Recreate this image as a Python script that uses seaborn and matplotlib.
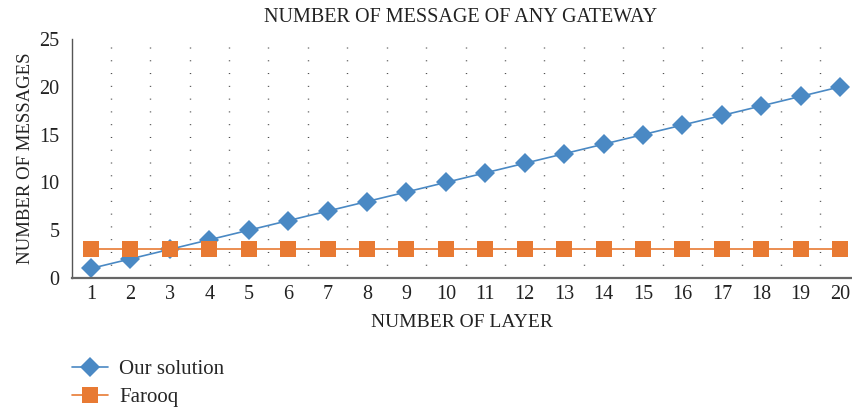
import matplotlib
matplotlib.use("Agg")
import matplotlib.pyplot as plt
from matplotlib.lines import Line2D
import seaborn as sns
import pandas as pd

layers = list(range(1, 21))
our_solution = [1, 2, 3, 4, 5, 6, 7, 8, 9, 10, 11, 12, 13, 14, 15, 16, 17, 18, 19, 20]
farooq = [3] * 20
series_names = ["Our solution", "Farooq"]
colors = {"Our solution": "#4A89C4", "Farooq": "#E87A33"}

df = pd.DataFrame({
    "layer": layers * 2,
    "messages": our_solution + farooq,
    "series": [series_names[0]] * 20 + [series_names[1]] * 20,
})

sns.set_theme(style="white")
plt.rcParams["font.family"] = ["Liberation Serif", "DejaVu Serif"]

fig = plt.figure(figsize=(8.52, 4.08), dpi=100)
ax = fig.add_axes([0.0845, 0.3186, 0.9155, 0.5858])

# vertical dotted separators between layer categories
for b in [i + 0.5 for i in range(1, 20)]:
    ax.axvline(b, color="#444444", linewidth=1.0, linestyle=(0, (0.7, 8.5)), zorder=0)

sns.lineplot(data=df, x="layer", y="messages", hue="series", style="series",
             palette=colors, markers={"Our solution": "D", "Farooq": "s"},
             dashes=False, linewidth=1.2, markeredgewidth=0, legend=False, ax=ax)
for line, ms in zip(ax.lines[-2:], [9.8, 11.5]):
    line.set_markersize(ms)
# draw Farooq over Our solution
ax.lines[-1].set_zorder(3)
ax.lines[-2].set_zorder(2)

ax.set_xlim(0.518, 20.3)
ax.set_ylim(0, 25)
ax.set_xticks(layers)
ax.set_xticklabels([str(v) for v in layers])
ax.set_yticks([0, 5, 10, 15, 20, 25])
ax.tick_params(axis="both", length=0, labelsize=14.5, labelcolor="#222222")
ax.tick_params(axis="x", pad=5)
ax.tick_params(axis="y", pad=9)

for s in ["top", "right"]:
    ax.spines[s].set_visible(False)
ax.spines["left"].set_color("#555555")
ax.spines["left"].set_linewidth(1.0)
ax.spines["bottom"].set_color("#666666")
ax.spines["bottom"].set_linewidth(1.6)

ax.set_xlabel("NUMBER OF LAYER", fontsize=14, color="#222222", labelpad=7)
ax.set_ylabel("NUMBER OF MESSAGES", fontsize=13.5, color="#222222", labelpad=4)
fig.text(0.54, 0.958, "NUMBER OF MESSAGE OF ANY GATEWAY", ha="center", va="center",
         fontsize=14.5, color="#222222")

handles = [
    Line2D([0], [0], color=colors["Our solution"], marker="D", markersize=9.8,
           markeredgewidth=0, linewidth=1.2),
    Line2D([0], [0], color=colors["Farooq"], marker="s", markersize=11.5,
           markeredgewidth=0, linewidth=1.2),
]
fig.legend(handles, series_names, loc="upper left", bbox_to_anchor=(0.084, 0.118),
           frameon=False, fontsize=15, handlelength=1.75, labelspacing=0.38,
           handletextpad=0.55, borderaxespad=0, borderpad=0)

fig.savefig("out.png", dpi=100)
